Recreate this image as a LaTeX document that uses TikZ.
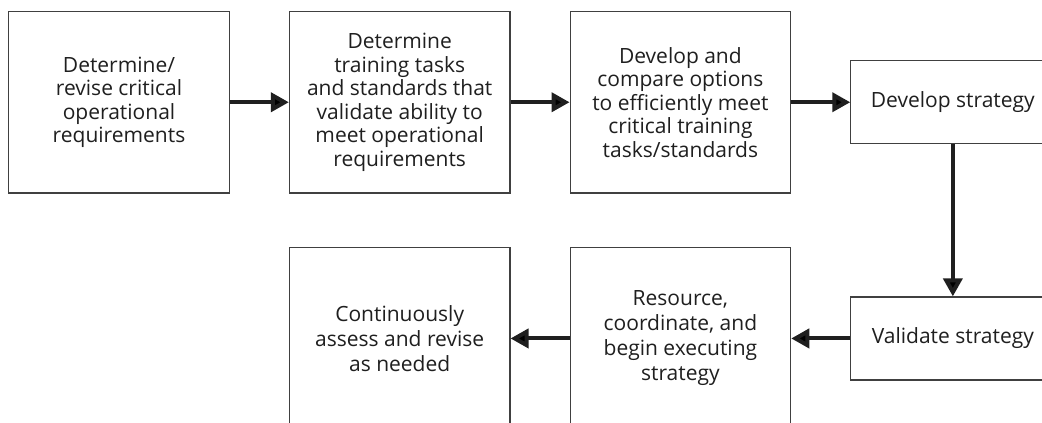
\documentclass[tikz,border=0pt]{standalone}
\usepackage{fontspec}
\setmainfont{Open Sans}
\usetikzlibrary{positioning,arrows.meta}

\tikzset{
  stepbox/.style={draw=black!75, line width=1.2pt, fill=white, text=black!88,
    align=center, inner sep=0pt, minimum width=220.5pt, minimum height=181.5pt,
    font=\fontsize{21}{23.5}\selectfont},
  lowbox/.style={stepbox, font=\fontsize{21}{25}\selectfont},
  shortbox/.style={stepbox, minimum width=204pt, minimum height=83pt},
  flow/.style={-{Triangle[length=18pt,width=19pt]}, line width=4pt, draw=black!88}
}

\begin{document}
\begin{tikzpicture}[x=1pt, y=1pt, node distance=59pt]
    \useasboundingbox (0,0) rectangle (1042,423);
    \clip (0,0) rectangle (1042,423);

    \node[stepbox] (reqs) at (119,320.75) {Determine/\\revise critical\\operational\\requirements};
    \node[stepbox] (tasks) [right=of reqs] {Determine\\training tasks\\and standards that\\validate ability to\\meet operational\\requirements};
    \node[stepbox] (options) [right=of tasks] {Develop and\\compare options\\to efficiently meet\\critical training\\tasks/standards};
    \node[shortbox] (develop) [right=of options] {Develop strategy};
    \node[shortbox] (validate) [below=152pt of develop] {Validate strategy};
    \node[lowbox] (execute) [left=of validate] {Resource,\\coordinate, and\\begin executing\\strategy};
    \node[lowbox] (assess) [left=of execute] {Continuously\\assess and revise\\as needed};

    \path[flow] (reqs) edge (tasks);
    \path[flow] (tasks) edge (options);
    \path[flow] (options) edge (develop);
    \path[flow] (develop) edge (validate);
    \path[flow] (validate) edge (execute);
    \path[flow] (execute) edge (assess);

\end{tikzpicture}
\end{document}
